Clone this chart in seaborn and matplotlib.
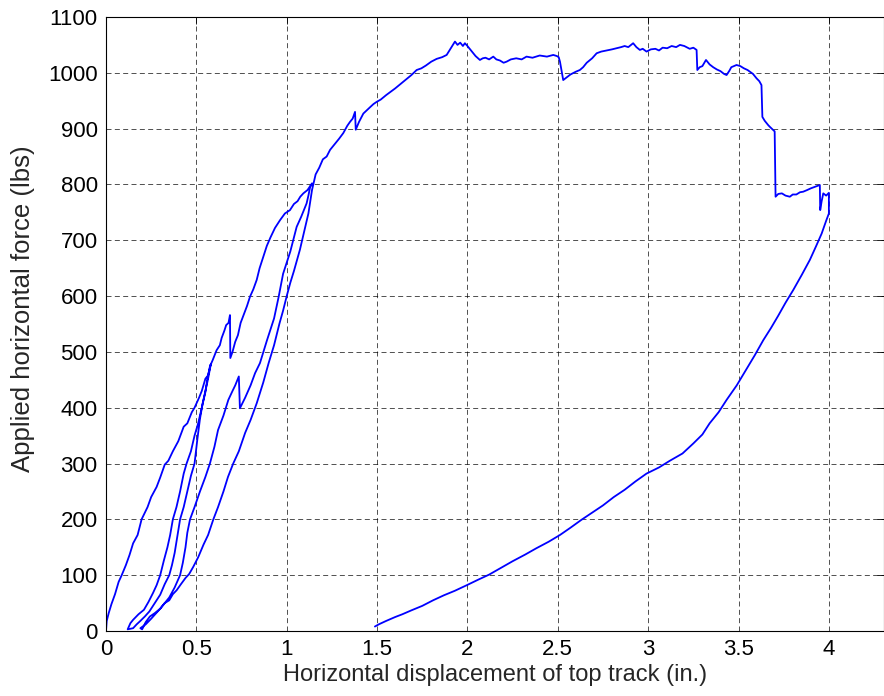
import numpy as np
import pandas as pd
import seaborn as sns
import matplotlib.pyplot as plt

# load path (displacement in., force lbs)
env1_x = [0.0, 0.004, 0.015, 0.03, 0.05, 0.07, 0.087, 0.11, 0.13, 0.15, 0.175, 0.197, 0.23, 0.25,
          0.28, 0.30, 0.325, 0.345, 0.37, 0.40, 0.43, 0.45, 0.475, 0.49, 0.515, 0.53, 0.55, 0.565, 0.58]
env1_f = [0, 18, 32, 48, 66, 88, 100, 118, 136, 157, 172, 200, 222, 240, 258, 275, 298, 305, 322,
          340, 366, 372, 392, 400, 418, 430, 452, 458, 478]

unload1_x = [0.58, 0.565, 0.55, 0.535, 0.52, 0.505, 0.49, 0.47, 0.45, 0.43, 0.41, 0.395, 0.38, 0.365,
             0.35, 0.325, 0.30, 0.27, 0.24, 0.215, 0.19, 0.17, 0.15]
unload1_f = [478, 452, 430, 408, 380, 342, 300, 278, 250, 222, 200, 170, 140, 118, 100, 84, 65, 50,
             35, 26, 18, 12, 5]

reload1_x = [0.12, 0.135, 0.15, 0.18, 0.21, 0.235, 0.26, 0.28, 0.30, 0.32, 0.34, 0.355, 0.37, 0.39,
             0.41, 0.43, 0.446, 0.47, 0.49, 0.51, 0.53, 0.55, 0.56, 0.575]
reload1_f = [3, 14, 20, 30, 38, 52, 68, 82, 100, 126, 150, 172, 200, 222, 250, 282, 300, 322, 350,
             372, 400, 428, 450, 474]

env2_x = [0.59, 0.612, 0.63, 0.64, 0.655, 0.665, 0.678, 0.686, 0.688, 0.70, 0.715, 0.73, 0.745,
          0.76, 0.78, 0.797, 0.815, 0.834, 0.85, 0.87, 0.89, 0.91, 0.935, 0.963, 0.99, 1.018,
          1.04, 1.06, 1.075, 1.092, 1.115, 1.14]
env2_f = [485, 503, 512, 525, 538, 548, 552, 566, 489, 500, 518, 530, 552, 565, 582, 599, 612, 629,
          650, 670, 690, 705, 722, 736, 748, 754, 765, 770, 778, 784, 790, 802]

unload2_x = [1.14, 1.13, 1.12, 1.11, 1.08, 1.055, 1.02, 0.98, 0.955, 0.93, 0.89, 0.852, 0.825, 0.80,
             0.77, 0.741, 0.735, 0.715, 0.70, 0.677, 0.65, 0.62, 0.60, 0.575, 0.55, 0.52, 0.49,
             0.465, 0.45, 0.44, 0.425, 0.41, 0.38, 0.35, 0.325, 0.30, 0.25, 0.22, 0.19]
unload2_f = [800, 796, 780, 766, 742, 724, 680, 640, 598, 560, 520, 480, 462, 440, 418, 399, 456,
             440, 430, 414, 386, 360, 330, 300, 276, 250, 222, 200, 176, 150, 122, 100, 78, 60, 50,
             40, 22, 12, 5]

reload2_x = [0.20, 0.22, 0.243, 0.27, 0.30, 0.325, 0.35, 0.37, 0.391, 0.415, 0.44, 0.46, 0.483,
             0.51, 0.54, 0.565, 0.594, 0.62, 0.65, 0.675, 0.704, 0.735, 0.77, 0.80, 0.834, 0.87,
             0.90, 0.93, 0.96, 0.98, 1.0, 1.02, 1.04, 1.06, 1.073, 1.10, 1.12, 1.14]
reload2_f = [3, 16, 26, 32, 40, 50, 55, 66, 73, 84, 95, 102, 115, 132, 155, 172, 200, 222, 250,
             276, 300, 322, 355, 378, 408, 445, 480, 512, 551, 574, 600, 624, 645, 668, 683, 720,
             748, 790]

top_x = [1.16, 1.18, 1.20, 1.221, 1.24, 1.26, 1.29, 1.313, 1.335, 1.35, 1.365, 1.378, 1.382, 1.40,
         1.424, 1.44, 1.46, 1.48, 1.498, 1.52, 1.55, 1.575, 1.60, 1.63, 1.66, 1.69, 1.719, 1.745,
         1.77, 1.80, 1.83, 1.86, 1.885, 1.91, 1.931, 1.945, 1.96, 1.975, 1.986, 2.0, 2.02, 2.045,
         2.069, 2.085, 2.10, 2.12, 2.143, 2.16, 2.18, 2.2, 2.217, 2.24, 2.27, 2.3, 2.327, 2.36,
         2.40, 2.44, 2.475, 2.495, 2.505, 2.512, 2.53, 2.55, 2.57, 2.6, 2.622, 2.64, 2.66, 2.69,
         2.715, 2.74, 2.77, 2.8, 2.825, 2.85, 2.87, 2.89, 2.917, 2.935, 2.954, 2.97, 2.991, 3.015,
         3.04, 3.06, 3.08, 3.105, 3.13, 3.155, 3.176, 3.2, 3.23, 3.25, 3.268, 3.272, 3.285, 3.30,
         3.32, 3.34, 3.36, 3.38, 3.40, 3.42, 3.434, 3.45, 3.46, 3.475, 3.489, 3.51, 3.53, 3.55,
         3.563, 3.58, 3.60, 3.615, 3.627, 3.632, 3.645, 3.655, 3.665, 3.674, 3.69, 3.70, 3.705,
         3.72, 3.74, 3.76, 3.784, 3.80, 3.82, 3.84, 3.858, 3.88, 3.90, 3.925, 3.95, 3.952, 3.96,
         3.969, 3.985, 4.0, 4.0]
top_f = [818, 830, 845, 850, 862, 870, 882, 892, 905, 912, 918, 930, 898, 912, 927, 932, 938, 944,
         948, 952, 960, 966, 972, 980, 988, 996, 1005, 1008, 1013, 1020, 1025, 1028, 1032, 1045,
         1056, 1050, 1054, 1048, 1053, 1048, 1040, 1030, 1023, 1026, 1027, 1024, 1029, 1024, 1022,
         1018, 1020, 1024, 1026, 1024, 1029, 1027, 1031, 1029, 1032, 1030, 1028, 1020, 987, 992,
         997, 1002, 1005, 1010, 1018, 1026, 1035, 1038, 1040, 1042, 1044, 1046, 1048, 1046, 1053,
         1046, 1041, 1043, 1038, 1042, 1043, 1040, 1045, 1044, 1048, 1046, 1050, 1048, 1043, 1045,
         1041, 1005, 1010, 1012, 1023, 1015, 1010, 1006, 1003, 998, 996, 1004, 1010, 1012, 1014,
         1012, 1008, 1005, 1002, 998, 990, 985, 978, 921, 914, 910, 906, 903, 898, 895, 778, 783,
         784, 780, 778, 782, 782, 786, 787, 790, 793, 796, 799, 754, 770, 784, 780, 785, 748]

back_x = [3.985, 3.96, 3.93, 3.895, 3.85, 3.803, 3.76, 3.72, 3.68, 3.637, 3.59, 3.54, 3.49, 3.434,
          3.39, 3.34, 3.30, 3.25, 3.19, 3.12, 3.06, 2.991, 2.93, 2.87, 2.81, 2.75, 2.69, 2.63,
          2.57, 2.512, 2.45, 2.38, 2.32, 2.25, 2.19, 2.12, 2.06, 1.996, 1.93, 1.87, 1.81, 1.75,
          1.69, 1.64, 1.60, 1.55, 1.51, 1.488]
back_f = [735, 712, 690, 665, 638, 611, 588, 565, 543, 521, 494, 467, 440, 414, 392, 372, 352, 336,
          318, 305, 293, 282, 268, 253, 240, 225, 212, 199, 185, 172, 160, 148, 137, 125, 114,
          101, 92, 82, 72, 64, 55, 45, 37, 30, 25, 18, 12, 8]

segments_x = [env1_x, unload1_x, reload1_x, env2_x, unload2_x, reload2_x, top_x, back_x]
segments_f = [env1_f, unload1_f, reload1_f, env2_f, unload2_f, reload2_f, top_f, back_f]

df = pd.DataFrame({
    "disp": np.concatenate([np.asarray(s, dtype=float) for s in segments_x]),
    "force": np.concatenate([np.asarray(s, dtype=float) for s in segments_f]),
})

sns.set_style("white")
plt.rcParams['font.family'] = ['Liberation Sans', 'DejaVu Sans']

fig = plt.figure(figsize=(8.84, 6.96), dpi=100)
ax = fig.add_axes([0.1199, 0.0934, 0.8801, 0.8822])

sns.lineplot(data=df, x="disp", y="force", sort=False, estimator=None,
             color=(0, 0, 1), linewidth=1.3, ax=ax)

ax.set_xlim(0, 4.305)
ax.set_ylim(0, 1100)
ax.set_xticks(np.arange(0, 4.01, 0.5))
ax.set_xticklabels(["0", "0.5", "1", "1.5", "2", "2.5", "3", "3.5", "4"])
ax.set_yticks(np.arange(0, 1101, 100))

ax.grid(True, color="black", linestyle=(0, (6, 4)), linewidth=0.6, alpha=0.8)
ax.tick_params(direction="in", length=5, width=0.6, labelsize=16, pad=6,
               top=True, right=True, colors="black")
for sp in ax.spines.values():
    sp.set_color("black")
    sp.set_linewidth(0.8)

ax.set_xlabel("Horizontal displacement of top track (in.)", fontsize=17, labelpad=3)
ax.set_ylabel("Applied horizontal force (lbs)", fontsize=18.5)
ax.yaxis.set_label_coords(-0.091, 0.525)

fig.savefig("out.png", dpi=100)
